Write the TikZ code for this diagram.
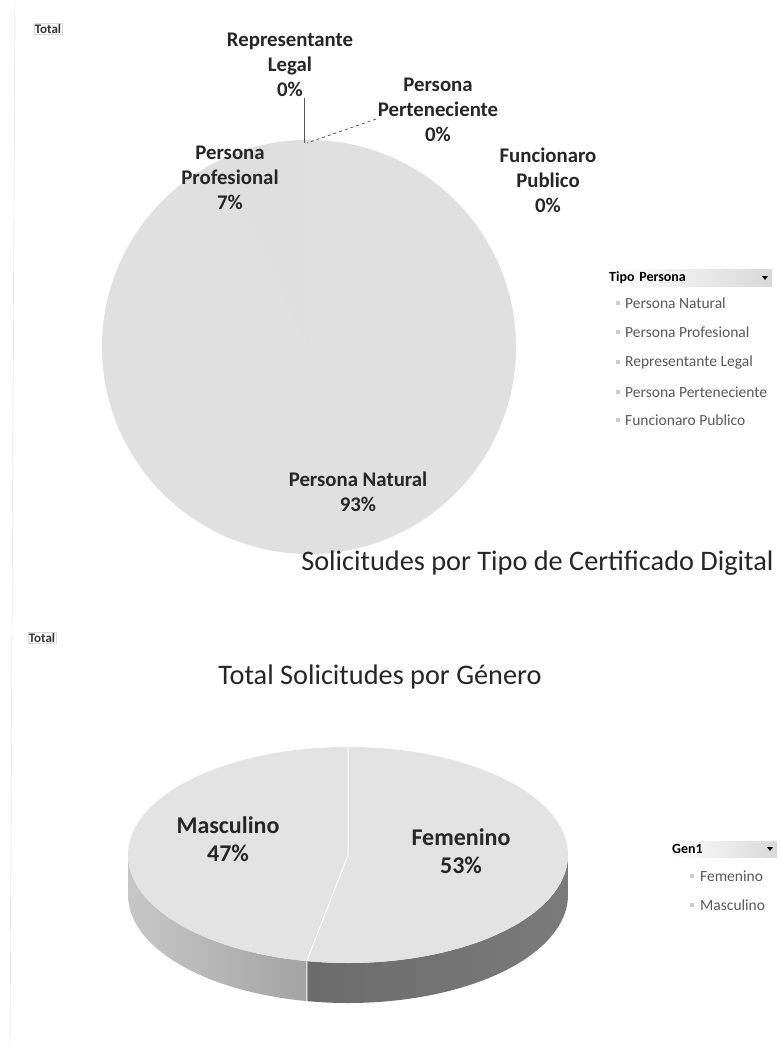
\documentclass[tikz,border=0pt]{standalone}
\usepackage{fontspec}
\setmainfont{Carlito}
\begin{document}
\begin{tikzpicture}[x=1pt,y=-1pt]

\tikzset{datalabel/.style = {font=\bfseries\fontsize{20.8}{25}\selectfont, align=center, text=black!85}}
\tikzset{biglabel/.style = {font=\bfseries\fontsize{24}{28}\selectfont, align=center, text=black!85}}
\tikzset{charttitle/.style = {font=\fontsize{28.3}{31}\selectfont, text=black!85}}
\tikzset{fieldbtn/.style = {font=\bfseries\fontsize{13}{15}\selectfont, draw=black!15, inner sep=1pt, text=black!80}}
\tikzset{legitem/.style = {font=\fontsize{15.5}{17}\selectfont, anchor=west, inner sep=0pt, text=black!65}}
\tikzset{legmark/.style = {shape=rectangle, fill=black!20, minimum size=4pt, inner sep=0pt}}
\tikzset{leghead/.style = {shape=rectangle, left color=white, right color=black!15, anchor=west, minimum height=16pt, inner sep=2pt, align=left, font=\bfseries\fontsize{14}{16}\selectfont}}
\tikzset{leader/.style = {draw=black!65, line width=0.8pt}}

\useasboundingbox (0,0) rectangle (780,1046);
\fill[white] (0,0) rectangle (780,1046);
\draw[black!15] (15,0) -- (10,1046);

% pie tipo persona
\coordinate (pie) at (309,347);
\fill[black!12] (pie) circle[radius=207];
\fill[black!12.6] (pie) -- ++(-90:207) arc[start angle=-90, end angle=-115.2, radius=207] -- cycle;

% pie genero
\coordinate (gen) at (348,855);
\coordinate (gen-top) at ([shift={(-90:220 and 108)}]gen);
\coordinate (gen-cut) at ([shift={(100.8:220 and 108)}]gen);
\coordinate (gen-cutb) at ([shift={(0,40)}]gen-cut);
\shade[left color=black!22, right color=black!36] ([shift={(180:220 and 108)}]gen) arc[start angle=180, end angle=100.8, x radius=220, y radius=108] -- ++(0,40) arc[start angle=100.8, end angle=180, x radius=220, y radius=108] -- cycle;
\shade[left color=black!58, right color=black!52] (gen-cut) arc[start angle=100.8, end angle=0, x radius=220, y radius=108] -- ++(0,40) arc[start angle=0, end angle=100.8, x radius=220, y radius=108] -- cycle;
\fill[black!11] (gen) ellipse[x radius=220, y radius=108];
\draw[white, line width=1pt] (gen-top) -- (gen) -- (gen-cut) -- (gen-cutb);

% labels
\node[fieldbtn] (tot1) at (48,29) {Total};
\node[datalabel] (rep) at (290,65) {Representante\\Legal\\0\%};
\node[datalabel] (pert) at (438,110) {Persona\\Perteneciente\\0\%};
\node[datalabel] (func) at (548,180) {Funcionaro\\Publico\\0\%};
\node[datalabel] (prof) at (230,178) {Persona\\Profesional\\7\%};
\node[datalabel] (nat) at (358,492) {Persona Natural\\93\%};
\node[charttitle, anchor=east] (title1) at (777,563) {Solicitudes por Tipo de Certificado Digital};

\node[fieldbtn] (tot2) at (42,638) {Total};
\node[charttitle] (title2) at (380,677) {Total Solicitudes por Género};
\node[biglabel] (masc) at (228,839) {Masculino\\47\%};
\node[biglabel] (fem) at (461,851) {Femenino\\53\%};

% leader lines
\coordinate (rep-a) at (304,98);
\coordinate (rep-b) at (304,143);
\coordinate (pert-a) at (376,119);
\coordinate (pert-b) at (307,143);
\draw[leader] (rep-a) -- (rep-b);
\draw[leader, dashed] (pert-a) -- (pert-b);

% legend tipo persona
\node[leghead, text width=161pt] (tipo) at (607,278) {Tipo Persona};
\fill (762,276) -- (768,276) -- (765,280) -- cycle;
\node[legmark] (m1) at (618,303) {};
\node[legmark] (m2) at (618,332) {};
\node[legmark] (m3) at (618,362) {};
\node[legmark] (m4) at (618,392) {};
\node[legmark] (m5) at (618,420) {};
\node[legitem] (l1) at (625,303) {Persona Natural};
\node[legitem] (l2) at (625,332) {Persona Profesional};
\node[legitem] (l3) at (625,362) {Representante Legal};
\node[legitem] (l4) at (625,392) {Persona Perteneciente};
\node[legitem] (l5) at (625,420) {Funcionaro Publico};

% legend genero
\node[leghead, text width=103pt] (gen1) at (670,849) {Gen1};
\fill (767,847) -- (773,847) -- (770,851) -- cycle;
\node[legmark] (g1) at (692,876) {};
\node[legmark] (g2) at (692,905) {};
\node[legitem] (f1) at (700,876) {Femenino};
\node[legitem] (f2) at (700,905) {Masculino};
\end{tikzpicture}
\end{document}
